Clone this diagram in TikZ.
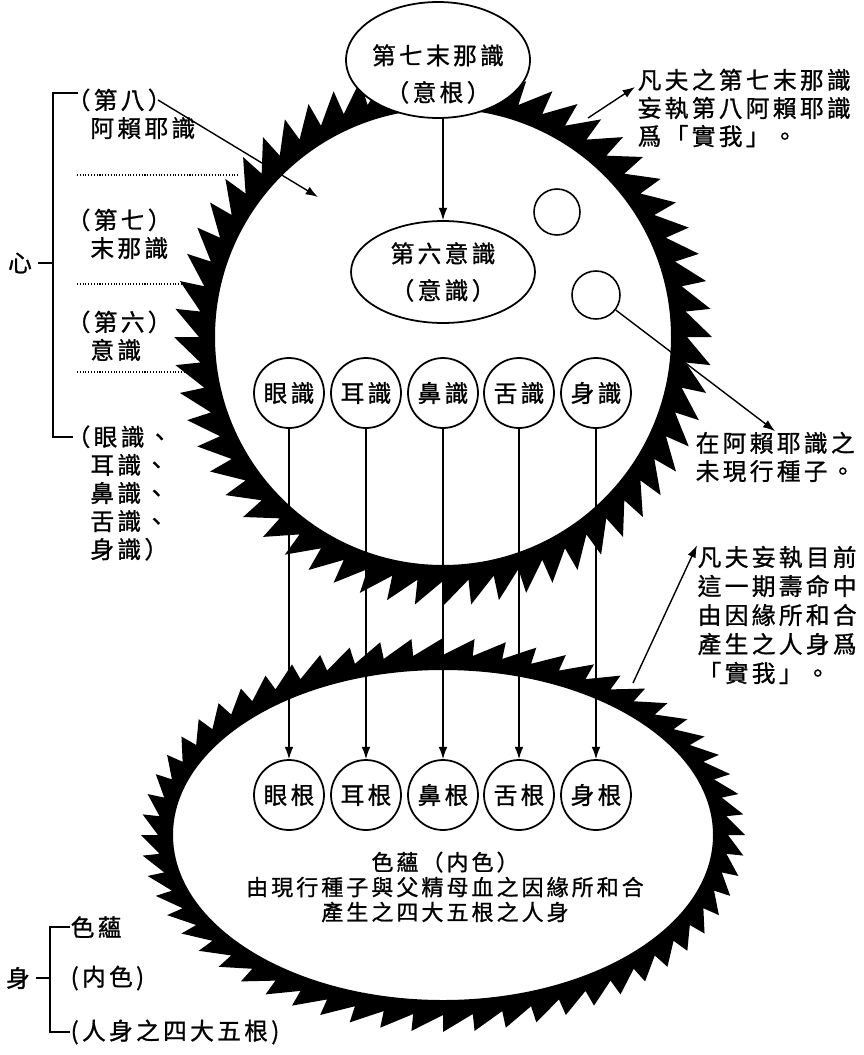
\documentclass[tikz,border=0pt]{standalone}
\usepackage{fontspec}
\newfontfamily\cjk[LetterSpace=14,FakeBold=1]{Noto Sans CJK TC}
\usetikzlibrary{arrows.meta,shapes.geometric,positioning}

\newcommand\fa{\cjk\fontsize{13.5}{16}\selectfont}
\newcommand\fb{\cjk\fontsize{13.5}{21}\selectfont}
\newcommand\fc{\cjk\fontsize{12.5}{14.2}\selectfont}

\tikzset{
  oval/.style={draw,ellipse,fill=white,line width=1pt,inner sep=0pt},
  shiki/.style={draw,circle,fill=white,minimum size=1.4cm,inner sep=0pt,line width=1pt},
  seed/.style={draw,circle,minimum size=0.92cm,inner sep=0pt,line width=0.9pt},
  lbl/.style={anchor=west,align=left,inner sep=0pt},
  sep/.style={densely dotted,line width=0.6pt},
}

\begin{document}
\begin{tikzpicture}[x=0.02cm,y=-0.02cm,>={Latex[length=7pt,width=5pt]},line width=0.8pt,font=\fa]
\useasboundingbox (0,0) rectangle (863,1055);

% upper ring (mind)
\begin{scope}[shift={(443,337)}]
  \fill[even odd rule] (0,0) circle (228)
    (0:244) \foreach \k in {1,...,60}{ -- ({\k*6}:269) -- ({\k*6}:244) } -- cycle;
\end{scope}

% lower ring (body)
\begin{scope}[shift={(443,835)}]
  \fill[even odd rule] (0,0) ellipse (270 and 165)
    (285,0) \foreach \k in {1,...,60}{ -- ({302*cos(\k*6)},{197*sin(\k*6)}) -- ({285*cos(\k*6)},{180*sin(\k*6)}) } -- cycle;
\end{scope}

% left bracket
\node (xin) at (20,263) {心};
\coordinate (xt0) at (78,93);
\coordinate (xt) at (53,93);
\coordinate (xm) at (53,263);
\coordinate (xb) at (53,437);
\coordinate (xb0) at (73,437);
\draw (xt0) -- (xt) -- (xb) -- (xb0);
\draw (xin) -- (xm);

\node[lbl] (l8) at (66,114) {（第八）\\\phantom{（}阿賴耶識};
\node[lbl] (l7) at (66,234) {（第七）\\\phantom{（}末那識};
\node[lbl] (l6) at (66,336) {（第六）\\\phantom{（}意識};
\node[lbl] (l5) at (66,493) {（眼識、\\\phantom{（}耳識、\\\phantom{（}鼻識、\\\phantom{（}舌識、\\\phantom{（}身識）};

\foreach \y/\e in {175/240,284/187,372/193}
  \draw[sep] (77,\y) -- (\e,\y);

% seventh and sixth
\node[oval,minimum width=3.68cm,minimum height=2.32cm] (manas) at (438,60) {};
\node[align=center,font=\fb] (manastxt) at (438,74) {第七末那識\\（意根）};
\node[oval,minimum width=3.68cm,minimum height=2.04cm,align=center,font=\fb] (mano) at (443,272) {第六意識\\（意識）};
\draw[->] (manas.south -| mano.north) -- (mano.north);

% seeds
\node[seed] (seedA) at (557,212) {};
\node[seed,minimum size=0.96cm] (seedB) at (596,295) {};

% five consciousnesses and five roots
\foreach \x/\w [count=\i] in {289/眼,366/耳,443/鼻,519/舌,596/身}{
  \node[shiki] (s\i) at (\x,393) {\w 識};
  \node[shiki] (g\i) at (\x,795) {\w 根};
  \draw[->] (s\i) -- (g\i);
}

\node[align=center,font=\fc] (rupa) at (445,887) {色蘊（内色）\\由現行種子與父精母血之因緣所和合\\產生之四大五根之人身};

% right notes
\node[lbl] (lab1) at (637,108) {凡夫之第七末那識\\妄執第八阿賴耶識\\爲「實我」。};
\node[lbl] (lab3) at (695,457) {在阿賴耶識之\\未現行種子。};
\node[lbl,font=\cjk\fontsize{13.5}{16.5}\selectfont] (lab2) at (697,615) {凡夫妄執目前\\這一期壽命中\\由因緣所和合\\產生之人身爲\\「實我」。};

\coordinate (r1) at (588,118);
\coordinate (t1) at (635,87);
\draw[->] (r1) -- (t1);
\draw[->] (seedB) -- (lab3.north);
\coordinate (r2) at (633,683);
\draw[->] (r2) -- (lab2.north west);

\coordinate (a8) at (158,100);
\coordinate (a8e) at (318,197);
\draw[->] (a8) -- (a8e);

% bottom-left bracket
\node (shen) at (18,978) {身};
\node[lbl] (b1) at (70,927) {色蘊};
\node[lbl] (b2) at (70,978) {(内色)};
\node[lbl] (b3) at (70,1032) {(人身之四大五根)};
\coordinate (ym) at (50,978);
\draw (b1.west) -| (ym) |- (b3.west);
\draw (shen) -- (ym);
\end{tikzpicture}
\end{document}
